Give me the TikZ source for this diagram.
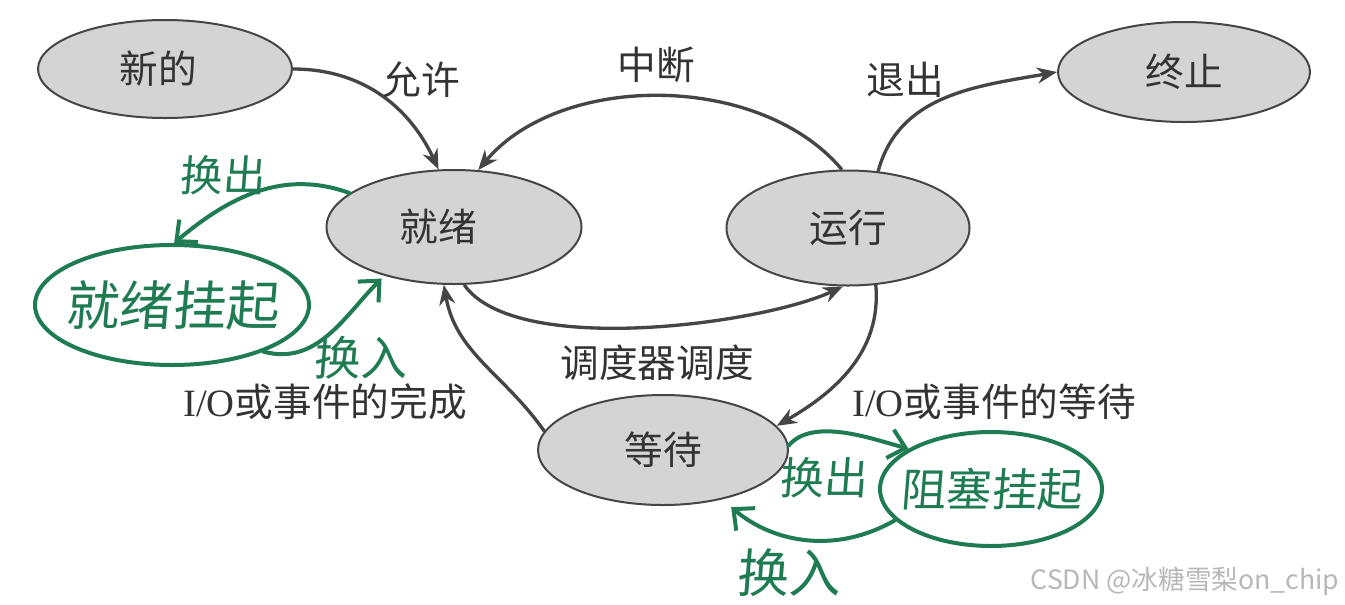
\documentclass[tikz,border=0pt]{standalone}
\usepackage{fontspec}
\setmainfont{Liberation Serif}
\newfontfamily\cjk{Noto Sans CJK SC}
\newfontfamily\hand[FakeSlant=0.08]{Noto Sans CJK SC}
\usetikzlibrary{arrows.meta,shapes.geometric}
\definecolor{edgegray}{HTML}{454545}
\definecolor{fillgray}{HTML}{D4D4D4}
\definecolor{pen}{HTML}{1E7B52}
\definecolor{wm}{HTML}{B8B8B8}
\begin{document}
\begin{tikzpicture}[x=0.75pt,y=-0.75pt,
  state/.style={ellipse,draw=edgegray,fill=fillgray,line width=1.5pt,inner sep=0pt,
    font=\cjk\fontsize{29}{29}\selectfont,text=black!80},
  arr/.style={draw=edgegray,line width=2.5pt,-{Stealth[length=15pt,width=12pt]}},
  lbl/.style={font=\cjk\fontsize{29}{29}\selectfont,text=black!80},
  gring/.style={ellipse,draw=pen,line width=3pt,inner xsep=-25pt,inner ysep=0pt,text=pen},
  garr/.style={draw=pen,line width=3pt,line cap=round,
    -{Straight Barb[length=12pt,width=22pt]}},
  glbl/.style={text=pen,inner sep=0pt}]
\useasboundingbox (0,0) rectangle (1345,604);
\fill[white] (0,0) rectangle (1345,604);

% states
\node[state,minimum width=190.5pt,minimum height=73.5pt] (new) at (165,69) {\hspace*{-10pt}新的};
\node[state,minimum width=189pt,minimum height=75pt] (end) at (1184,72) {终止};
\node[state,minimum width=191.25pt,minimum height=85.5pt] (ready) at (454,227) {\hspace*{-24pt}就绪};
\node[state,minimum width=182.25pt,minimum height=86.25pt] (run) at (848,228) {运行};
\node[state,minimum width=187.5pt,minimum height=82.5pt] (wait) at (663,450) {等待};

% printed transitions
\draw[arr] (new.east) to[out=0,in=115] (ready.105);
\draw[arr] (run.96) to[out=130,in=50,looseness=0.9] (ready.67);
\draw[arr] (run.62) to[out=75,in=190] (end.west);
\draw[arr] (ready.-80) to[out=-55,in=-155,looseness=0.6] (run.-95);
\draw[arr] (run.-64) to[out=-85,in=30] (wait.12);
\draw[arr] (wait.171) to[out=125,in=-80] (ready.-100);

% printed labels
\node[lbl] (lallow) at (421,80) {允许};
\node[lbl] (lint) at (656,65) {中断};
\node[lbl] (lexit) at (905,80) {退出};
\node[lbl] (lsched) at (657,363) {调度器调度};
\node[lbl] (ldone) at (325,402) {{\rmfamily I/O}或事件的完成};
\node[lbl] (lwait) at (994,402) {{\rmfamily I/O}或事件的等待};

% handwritten annotations
\node[gring,minimum width=205.5pt,minimum height=90pt,font=\hand\fontsize{40}{40}\selectfont] (suspend) at (172,305) {就绪挂起};
\node[gring,minimum width=166.5pt,minimum height=85.5pt,font=\hand\fontsize{34}{34}\selectfont] (blocked) at (991,489) {阻塞挂起};

\draw[garr] (ready.162) to[out=160,in=40] (suspend.88);
\draw[garr,shorten >=3pt] (suspend.-27) to[out=-15,in=-135] (ready.215);
\draw[garr] (wait.2) to[out=50,in=165,looseness=0.8] (blocked.154);
\draw[garr,shorten >=9pt] (blocked.-162) to[out=-150,in=-40] (wait.-40);

\node[glbl,font=\hand\fontsize{32}{32}\selectfont] (gout1) at (222,175) {换出};
\node[glbl,font=\hand\fontsize{35}{35}\selectfont] (gin1) at (360,358) {换入};
\node[glbl,font=\hand\fontsize{33}{33}\selectfont] (gout2) at (823,478) {换出};
\node[glbl,font=\hand\fontsize{39}{39}\selectfont] (gin2) at (788,573) {换入};

% watermark
\node[font=\cjk\fontsize{20}{20}\selectfont,text=wm] (wmark) at (1185,581) {CSDN @冰糖雪梨on\_chip};
\end{tikzpicture}
\end{document}
